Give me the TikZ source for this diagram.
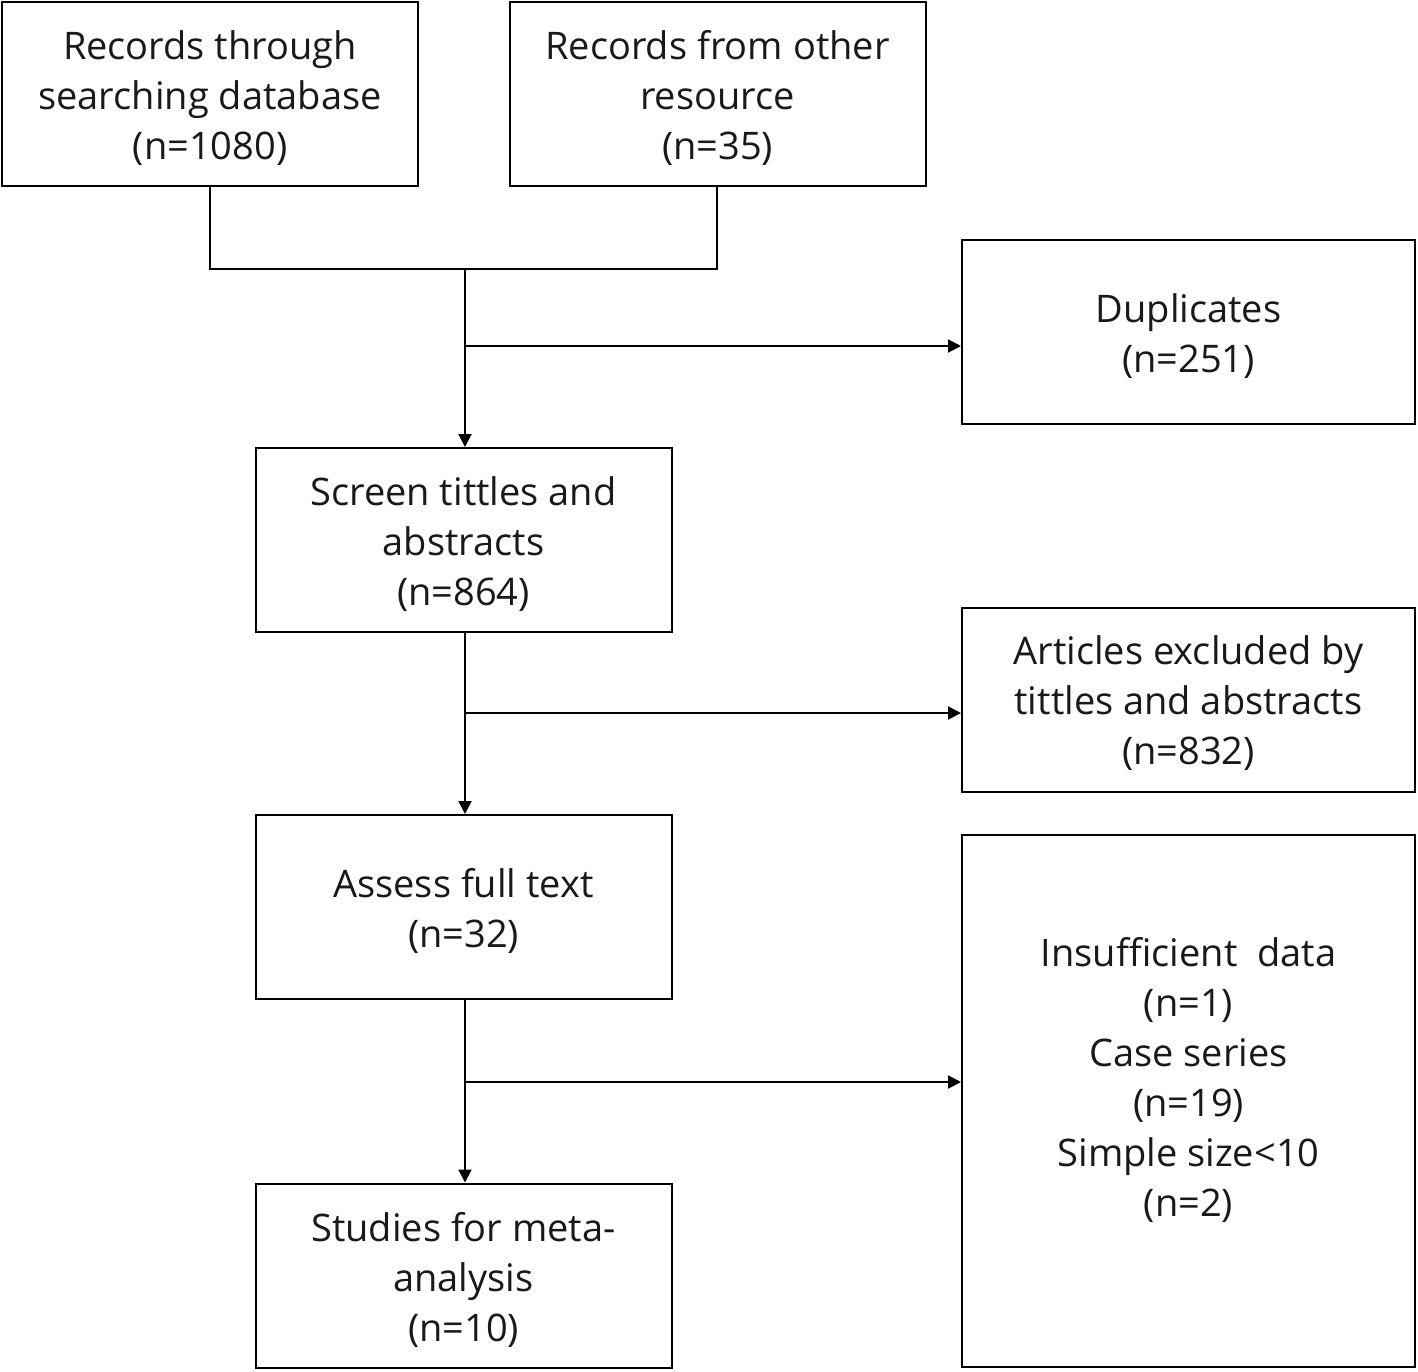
\documentclass[tikz,border=0pt]{standalone}
\usepackage{fontspec}
\setmainfont{Open Sans}
\usetikzlibrary{arrows.meta}
\tikzset{
  txt/.style={align=center, inner sep=0pt,
    font=\fontsize{19pt}{25pt}\selectfont, text=black!90},
  box/.style={draw=black, line width=1pt, inner sep=0pt},
  smallbox/.style={box, minimum width=208pt, minimum height=92pt},
  sidebox/.style={box, minimum width=226.5pt, minimum height=92pt},
  conn/.style={line width=1pt},
  arr/.style={conn, -{Triangle[length=6.5pt,width=6.5pt]}},
}
\begin{document}
\begin{tikzpicture}[x=0.5pt,y=-0.5pt]
\useasboundingbox (0,0) rectangle (1418,1371);
\node[smallbox] (a) at (210,94) {};
\node[txt] (at) at ([yshift=-2pt]a.center) {Records through\\searching database\\(n=1080)};
\node[smallbox] (b) at (717.5,94) {};
\node[txt] (bt) at ([yshift=-2pt]b.center) {Records from other\\resource\\(n=35)};
\node[sidebox] (dup) at (1188.5,332) {};
\node[txt] (dupt) at ([yshift=-2pt]dup.center) {Duplicates\\(n=251)};
\node[smallbox] (scr) at (463.5,540) {};
\node[txt] (scrt) at ([yshift=-2pt]scr.center) {Screen tittles and\\abstracts\\(n=864)};
\node[sidebox] (art) at (1188.5,699.5) {};
\node[txt] (artt) at ([yshift=-2pt]art.center) {Articles excluded by\\tittles and abstracts\\(n=832)};
\node[smallbox] (ass) at (463.5,907) {};
\node[txt] (asst) at ([yshift=-2pt]ass.center) {Assess full text\\(n=32)};
\node[sidebox, minimum height=266pt] (exc) at (1188.5,1101) {};
\node[txt] (exct) at (1188.5,1080)
  {Insufficient\ \ data\\(n=1)\\Case series\\(n=19)\\Simple size<10\\(n=2)};
\node[smallbox] (stu) at (463.5,1275.5) {};
\node[txt] (stut) at ([yshift=-2pt]stu.center) {Studies for meta-\\analysis\\(n=10)};
\coordinate (ja) at (210,269);
\coordinate (jb) at (717,269);
\coordinate (jm) at (465,269);
\coordinate (j1) at (465,346);
\coordinate (j2) at (465,713);
\coordinate (j3) at (465,1082);
\draw[conn] (a.south) -- (ja) -- (jb) -- (b.south -| jb);
\draw[arr] (jm) -- (jm |- scr.north);
\draw[arr] (j1) -- (j1 -| dup.west);
\draw[arr] (scr.south -| j2) -- (j2 |- ass.north);
\draw[arr] (j2) -- (j2 -| art.west);
\draw[arr] (ass.south -| j3) -- (j3 |- stu.north);
\draw[arr] (j3) -- (j3 -| exc.west);
\end{tikzpicture}
\end{document}
